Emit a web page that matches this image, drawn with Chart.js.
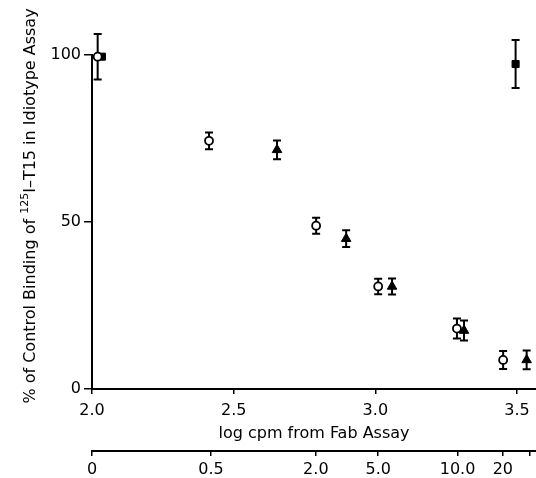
<!DOCTYPE html>
<html>
<head>
<meta charset="utf-8">
<script src="https://cdn.jsdelivr.net/npm/chart.js@4.4.0/dist/chart.umd.min.js"></script>
<style>
  html, body { margin: 0; padding: 0; background: #fff; }
  #wrap { width: 536px; height: 478px; }
</style>
</head>
<body>
<div id="wrap"><canvas id="myChart" width="536" height="478"></canvas></div>
<script>
// log cpm positions and % binding
var circleX = [2.02, 2.413, 2.791, 3.01, 3.288, 3.451];
var circleY = [99.5, 74.3, 48.9, 30.7, 18.1, 8.7];
var circleErr = [6.8, 2.5, 2.4, 2.3, 3.0, 2.7];

var triangleX = [2.653, 2.897, 3.059, 3.313, 3.534];
var triangleY = [71.6, 45.0, 30.7, 17.5, 8.7];
var triangleErr = [2.8, 2.5, 2.4, 3.0, 2.8];

var squareX = [2.035, 3.495];
var squareY = [99.5, 97.3];
var squareErr = [0, 7.2];

var xTicks = [2.0, 2.5, 3.0, 3.5];
var yTicks = [0, 50, 100];

// second scale under the axis (amount added)
var amountTicks = [2.0, 2.42, 2.79, 3.01, 3.29, 3.45, 3.545];
var amountLabels = ["0", "0.5", "2.0", "5.0", "10.0", "20", ""];

// y axis title, split for the superscript
var yTitle = ["% of Control Binding of ", "125", "I\u2013T15 in Idiotype Assay"];

function toPoints(xs, ys) {
  var pts = [];
  for (var i = 0; i < xs.length; i++) {
    pts.push({ x: xs[i], y: ys[i] });
  }
  return pts;
}

var errors = [circleErr, triangleErr, squareErr];
var font = "'DejaVu Sans', sans-serif";

var errorBars = {
  id: "errorBars",
  beforeDatasetsDraw: function (chart) {
    var ctx = chart.ctx;
    var yScale = chart.scales.y;
    ctx.save();
    ctx.strokeStyle = "#000";
    ctx.lineWidth = 2;
    chart.data.datasets.forEach(function (ds, di) {
      var meta = chart.getDatasetMeta(di);
      meta.data.forEach(function (pt, i) {
        var e = errors[di][i];
        if (!e) return;
        var v = ds.data[i].y;
        var top = yScale.getPixelForValue(v + e);
        var bot = yScale.getPixelForValue(v - e);
        ctx.beginPath();
        ctx.moveTo(pt.x, top);
        ctx.lineTo(pt.x, bot);
        ctx.moveTo(pt.x - 4, top);
        ctx.lineTo(pt.x + 4, top);
        ctx.moveTo(pt.x - 4, bot);
        ctx.lineTo(pt.x + 4, bot);
        ctx.stroke();
      });
    });
    ctx.restore();
  }
};

// rotated y title with a real superscript
var yAxisTitle = {
  id: "yAxisTitle",
  afterDraw: function (chart) {
    var ctx = chart.ctx;
    var big = "16px " + font;
    var small = "11px " + font;
    ctx.save();
    ctx.font = big;
    var w1 = ctx.measureText(yTitle[0]).width;
    var w3 = ctx.measureText(yTitle[2]).width;
    ctx.font = small;
    var w2 = ctx.measureText(yTitle[1]).width;
    var total = w1 + w2 + w3;
    ctx.translate(35, 206 + total / 2);
    ctx.rotate(-Math.PI / 2);
    ctx.fillStyle = "#000";
    ctx.textBaseline = "alphabetic";
    ctx.textAlign = "left";
    ctx.font = big;
    ctx.fillText(yTitle[0], 0, 0);
    ctx.font = small;
    ctx.fillText(yTitle[1], w1, -7);
    ctx.font = big;
    ctx.fillText(yTitle[2], w1 + w2, 0);
    ctx.restore();
  }
};

var ctx = document.getElementById("myChart");

var data = {
  datasets: [
    {
      label: "open circles",
      data: toPoints(circleX, circleY),
      pointStyle: "circle",
      pointRadius: 4,
      pointBorderWidth: 1.8,
      pointBackgroundColor: "#fff",
      pointBorderColor: "#000",
      showLine: false,
      clip: false
    },
    {
      label: "triangles",
      data: toPoints(triangleX, triangleY),
      pointStyle: "triangle",
      pointRadius: 5.5,
      pointBorderWidth: 1,
      pointBackgroundColor: "#000",
      pointBorderColor: "#000",
      showLine: false,
      clip: false
    },
    {
      label: "squares",
      data: toPoints(squareX, squareY),
      pointStyle: "rect",
      pointRadius: 5,
      pointBorderWidth: 1,
      pointBackgroundColor: "#000",
      pointBorderColor: "#000",
      showLine: false,
      clip: false
    }
  ]
};

var options = {
  responsive: false,
  animation: false,
  events: [],
  layout: { autoPadding: false, padding: { top: 55, right: 0, bottom: 0, left: 0 } },
  plugins: {
    legend: { display: false },
    tooltip: { enabled: false }
  },
  scales: {
    x: {
      type: "linear",
      position: "bottom",
      min: 2.0,
      max: 3.567,
      weight: 0,
      afterBuildTicks: function (scale) {
        scale.ticks = xTicks.map(function (v) { return { value: v }; });
      },
      afterFit: function (scale) {
        scale.height = 62;
        scale.paddingRight = 0;
        scale.paddingLeft = 0;
      },
      grid: { display: true, drawOnChartArea: false, drawTicks: true, tickLength: 5, color: "#000", lineWidth: 1.5 },
      border: { display: true, color: "#000", width: 2 },
      ticks: {
        color: "#000",
        padding: 7,
        maxRotation: 0,
        autoSkip: false,
        font: { family: font, size: 16 },
        callback: function (v) { return v.toFixed(1); }
      },
      title: {
        display: true,
        text: "log cpm from Fab Assay",
        color: "#000",
        font: { family: font, size: 16 },
        padding: { top: 2, bottom: 8 }
      }
    },
    x2: {
      type: "linear",
      position: "bottom",
      min: 2.0,
      max: 3.567,
      weight: 1,
      afterBuildTicks: function (scale) {
        scale.ticks = amountTicks.map(function (v) { return { value: v }; });
      },
      afterFit: function (scale) {
        scale.height = 27;
        scale.paddingRight = 0;
        scale.paddingLeft = 0;
      },
      grid: { display: true, drawOnChartArea: false, drawTicks: true, tickLength: 5, color: "#000", lineWidth: 1.5 },
      border: { display: true, color: "#000", width: 2 },
      ticks: {
        color: "#000",
        padding: 4,
        maxRotation: 0,
        autoSkip: false,
        font: { family: font, size: 16 },
        callback: function (v, i) { return amountLabels[i]; }
      }
    },
    y: {
      type: "linear",
      min: 0,
      max: 100,
      afterBuildTicks: function (scale) {
        scale.ticks = yTicks.map(function (v) { return { value: v }; });
      },
      afterFit: function (scale) { scale.width = 92; },
      grid: { display: true, drawOnChartArea: false, drawTicks: true, tickLength: 8, color: "#000", lineWidth: 1.5 },
      border: { display: true, color: "#000", width: 2 },
      ticks: {
        color: "#000",
        padding: 3,
        font: { family: font, size: 16 }
      },
      title: { display: false }
    }
  }
};

var chart = new Chart(ctx, {
  type: "scatter",
  data: data,
  options: options,
  plugins: [errorBars, yAxisTitle]
});
</script>
</body>
</html>
